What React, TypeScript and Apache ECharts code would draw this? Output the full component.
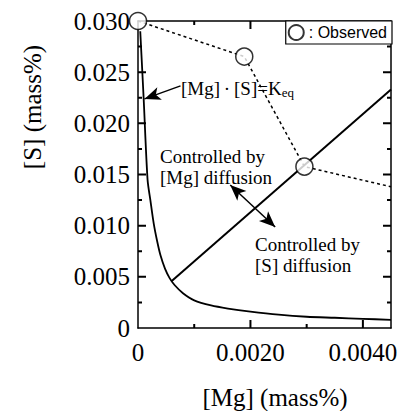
import React, { useEffect, useRef } from "react";
import * as echarts from "echarts";

// Equilibrium curve [Mg]·[S]=Keq
const curveMg = [0.00004, 0.0001, 0.00017, 0.00022, 0.00028, 0.00034, 0.0004, 0.00048, 0.00056, 0.00065, 0.0008, 0.001, 0.0013, 0.0016, 0.002, 0.0025, 0.003, 0.0035, 0.004, 0.0045];
const curveS = [0.029, 0.0225, 0.0145, 0.0125, 0.0102, 0.0085, 0.0071, 0.0058, 0.0049, 0.0042, 0.0034, 0.0027, 0.0022, 0.0019, 0.0016, 0.0013, 0.0011, 0.001, 0.0009, 0.0008];

// Boundary between controlled regimes
const boundaryMg = [0.0006, 0.0045];
const boundaryS = [0.0046, 0.0233];

// Observed points
const observedMg = [0, 0.00189, 0.00296];
const observedS = [0.03, 0.02652, 0.01577];

// Dotted path through observations
const pathMg = [0, 0.00189, 0.00296, 0.0045];
const pathS = [0.03, 0.02652, 0.01577, 0.0138];

// Axis ticks
const xLabels = [0, 0.002, 0.004];
const xMajorTicks = [0.002, 0.004];
const xMinorTicks = [0.001, 0.003];
const yMajorTicks = [0.005, 0.01, 0.015, 0.02, 0.025];
const yMinorTicks = [0.0025, 0.0075, 0.0125, 0.0175, 0.0225, 0.0275];

// Annotation arrows (data coords)
const keqArrow = [[0.000756, 0.02366], [0.000116, 0.02239]];
const regimeArrow = [[0.00164, 0.01398], [0.00244, 0.00987]];

const SERIF = "Liberation Serif";
const SANS = "Liberation Sans";
const X_MAX = 0.0045;
const Y_MAX = 0.03;
const GRID_W = 253;
const GRID_H = 307;

const zip = (a: number[], b: number[]) => a.map((v, i) => [v, b[i]]);

// Tick segments (inward) on all four sides, as one broken polyline
const GAP = ["-", "-"];
const buildTicks = () => {
  const dx = (px: number) => (px / GRID_W) * X_MAX;
  const dy = (px: number) => (px / GRID_H) * Y_MAX;
  const out: any[] = [];
  const yTick = (v: number, len: number) => {
    out.push([0, v], [dx(len), v], GAP, [X_MAX, v], [X_MAX - dx(len), v], GAP);
  };
  const xTick = (v: number, len: number) => {
    out.push([v, 0], [v, dy(len)], GAP, [v, Y_MAX], [v, Y_MAX - dy(len)], GAP);
  };
  yMajorTicks.forEach((v) => yTick(v, 8));
  yMinorTicks.forEach((v) => yTick(v, 4));
  xMajorTicks.forEach((v) => xTick(v, 8));
  xMinorTicks.forEach((v) => xTick(v, 4));
  return out;
};

export default function App() {
  const ref = useRef<HTMLDivElement>(null);
  useEffect(() => {
    if (!ref.current) return;
    const chart = echarts.init(ref.current, undefined, { renderer: "svg" });
    const axLine = { show: true, onZero: false, lineStyle: { color: "#000", width: 1.5 } };

    chart.setOption({
      animation: false,
      backgroundColor: "#fff",
      textStyle: { fontFamily: SERIF, color: "#000" },
      grid: { left: 138, top: 21, width: GRID_W, height: GRID_H, containLabel: false, outerBoundsMode: "none" },
      legend: {
        data: [{ name: "Observed", icon: "circle" }],
        right: 18,
        top: 21,
        orient: "horizontal",
        selectedMode: false,
        backgroundColor: "#fff",
        borderColor: "#000",
        borderWidth: 1.2,
        borderRadius: 0,
        padding: [3, 5, 3, 2],
        itemWidth: 15,
        itemHeight: 15,
        formatter: () => ": Observed",
        textStyle: { fontFamily: SANS, fontSize: 16, color: "#000" },
        z: 10,
      },
      xAxis: [
        {
          type: "value",
          min: 0,
          max: X_MAX,
          position: "bottom",
          splitLine: { show: false },
          axisLine: axLine,
          axisTick: { show: false },
          axisLabel: {
            customValues: xLabels,
            formatter: (v: number) => (v === 0 ? "0" : v.toFixed(4)),
            fontFamily: SERIF,
            fontSize: 25,
            color: "#000",
            margin: 12,
          },
        },
        {
          type: "value",
          min: 0,
          max: X_MAX,
          position: "top",
          splitLine: { show: false },
          axisLine: axLine,
          axisTick: { show: false },
          axisLabel: { show: false },
        },
      ],
      yAxis: [
        {
          type: "value",
          min: 0,
          max: Y_MAX,
          interval: 0.005,
          position: "left",
          splitLine: { show: false },
          axisLine: axLine,
          axisTick: { show: false },
          axisLabel: {
            formatter: (v: number) => (v === 0 ? "0" : v.toFixed(3)),
            fontFamily: SERIF,
            fontSize: 25,
            color: "#000",
            margin: 8,
          },
        },
        {
          type: "value",
          min: 0,
          max: Y_MAX,
          interval: 0.005,
          position: "right",
          splitLine: { show: false },
          axisLine: axLine,
          axisTick: { show: false },
          axisLabel: { show: false },
        },
      ],
      series: [
        {
          name: "ticks",
          type: "line",
          xAxisIndex: 0,
          yAxisIndex: 0,
          data: buildTicks(),
          connectNulls: false,
          showSymbol: false,
          symbol: "none",
          silent: true,
          clip: false,
          lineStyle: { color: "#000", width: 2 },
          z: 3,
        },
        {
          name: "Keq",
          type: "line",
          xAxisIndex: 0,
          yAxisIndex: 0,
          data: zip(curveMg, curveS),
          smooth: 0.3,
          showSymbol: false,
          symbol: "none",
          silent: true,
          lineStyle: { color: "#000", width: 1.8 },
          z: 2,
        },
        {
          name: "boundary",
          type: "line",
          xAxisIndex: 0,
          yAxisIndex: 0,
          data: zip(boundaryMg, boundaryS),
          showSymbol: false,
          symbol: "none",
          silent: true,
          lineStyle: { color: "#000", width: 2 },
          z: 2,
          markLine: {
            silent: true,
            animation: false,
            symbolSize: [10, 16],
            label: { show: false },
            lineStyle: { color: "#000", width: 1.5, type: "solid" },
            data: [
              [
                { coord: keqArrow[0], symbol: "none" },
                { coord: keqArrow[1], symbol: "arrow" },
              ],
              [
                { coord: regimeArrow[0], symbol: "arrow" },
                { coord: regimeArrow[1], symbol: "arrow" },
              ],
            ],
          },
        },
        {
          name: "path",
          type: "line",
          xAxisIndex: 0,
          yAxisIndex: 0,
          data: zip(pathMg, pathS),
          showSymbol: false,
          symbol: "none",
          silent: true,
          lineStyle: { color: "#000", width: 1.5, type: [3, 3] },
          z: 2,
        },
        {
          name: "Observed",
          type: "scatter",
          xAxisIndex: 0,
          yAxisIndex: 0,
          data: zip(observedMg, observedS),
          symbol: "circle",
          symbolSize: 17,
          clip: false,
          silent: true,
          itemStyle: { color: "#fff", borderColor: "#000", borderWidth: 1.5 },
          z: 6,
        },
      ],
      graphic: [
        {
          type: "text",
          x: 32,
          y: 107,
          rotation: Math.PI / 2,
          style: { text: "[S] (mass%)", fontFamily: SERIF, fontSize: 25, fill: "#000", align: "center", verticalAlign: "middle" },
        },
        {
          type: "text",
          x: 275,
          y: 397,
          style: { text: "[Mg] (mass%)", fontFamily: SERIF, fontSize: 25, fill: "#000", align: "center", verticalAlign: "middle" },
        },
        {
          type: "text",
          x: 181,
          y: 88,
          style: {
            text: "{a|[Mg]\u2009·\u2009[S]=K}{b|eq}",
            align: "left",
            verticalAlign: "middle",
            rich: {
              a: { fontFamily: SERIF, fontSize: 19, fill: "#000", color: "#000", lineHeight: 22 },
              b: { fontFamily: SERIF, fontSize: 13, fill: "#000", color: "#000", verticalAlign: "bottom" },
            },
          },
        },
        {
          type: "text",
          x: 160,
          y: 146,
          style: { text: "Controlled by\n[Mg] diffusion", fontFamily: SERIF, fontSize: 19, lineHeight: 21, fill: "#000", align: "left", verticalAlign: "top" },
        },
        {
          type: "text",
          x: 255,
          y: 234,
          style: { text: "Controlled by\n[S] diffusion", fontFamily: SERIF, fontSize: 19, lineHeight: 21, fill: "#000", align: "left", verticalAlign: "top" },
        },
      ],
    });
    return () => chart.dispose();
  }, []);
  return <div ref={ref} style={{ position: "fixed", left: 0, top: 0, width: 410, height: 411, background: "#fff" }} />;
}
